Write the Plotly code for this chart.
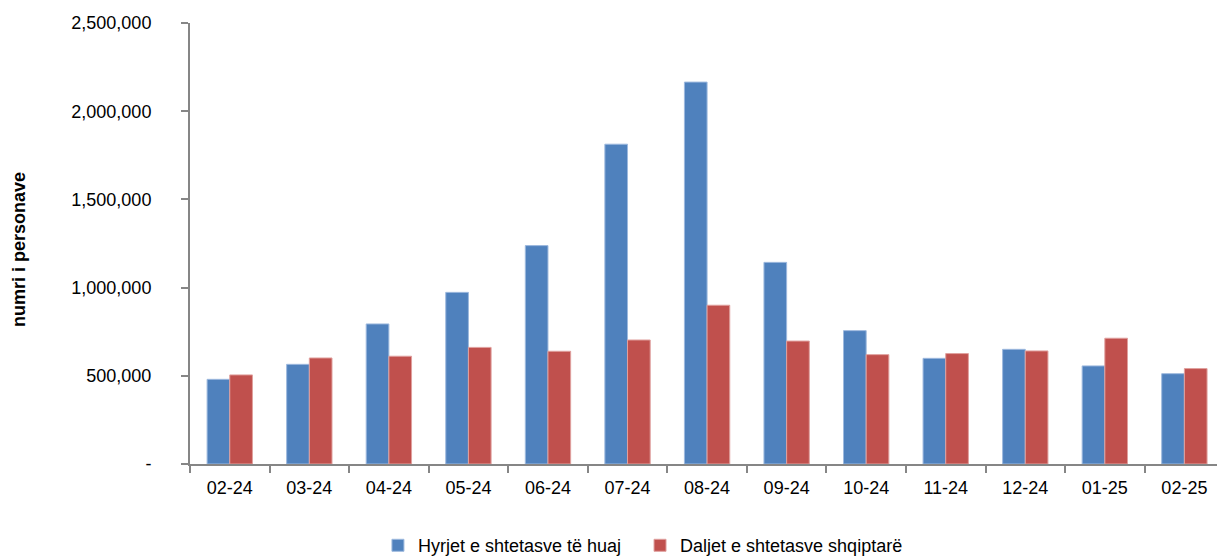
import plotly.graph_objects as go

categories = ["02-24", "03-24", "04-24", "05-24", "06-24", "07-24", "08-24",
              "09-24", "10-24", "11-24", "12-24", "01-25", "02-25"]
hyrjet = [480000, 565000, 794000, 973000, 1238000, 1813000, 2165000,
          1143000, 756000, 599000, 650000, 556000, 512000]
daljet = [505000, 601000, 611000, 661000, 639000, 703000, 900000,
          697000, 620000, 626000, 641000, 713000, 541000]
series_names = ["Hyrjet e shtetasve të huaj", "Daljet e shtetasve shqiptarë"]
y_tickvals = [0, 500000, 1000000, 1500000, 2000000, 2500000]
y_ticktext = ["-", "500,000", "1,000,000", "1,500,000", "2,000,000", "2,500,000"]

FONT = "Liberation Sans, Arial, sans-serif"

fig = go.Figure()
fig.add_trace(go.Bar(x=categories, y=hyrjet, name=series_names[0], legend="legend",
                     marker=dict(color="#4F81BD", line=dict(color="#9DB9DE", width=1))))
fig.add_trace(go.Bar(x=categories, y=daljet, name=series_names[1], legend="legend2",
                     marker=dict(color="#C0504D", line=dict(color="#E0A09E", width=1))))

legend_common = dict(orientation="h", xanchor="left", y=-0.185, yanchor="middle",
                     font=dict(size=18), itemwidth=30, bgcolor="rgba(0,0,0,0)")

fig.update_layout(
    width=1217, height=556,
    margin=dict(l=190, r=0, t=23, b=92, autoexpand=False),
    paper_bgcolor="white", plot_bgcolor="white",
    font=dict(family=FONT, size=18, color="black"),
    barmode="group", bargap=0.43, bargroupgap=0,
    showlegend=True,
    legend=dict(x=0.183, **legend_common),
    legend2=dict(x=0.4382, **legend_common),
    xaxis=dict(type="category", range=[-0.5, 12.41], showline=True,
               linecolor="#868686", linewidth=2, ticks="outside", ticklen=7,
               tickwidth=2, tickcolor="#868686", tickson="boundaries",
               showgrid=False, tickfont=dict(size=18), ticklabelstandoff=6),
    yaxis=dict(range=[0, 2500000], tickvals=y_tickvals, ticktext=y_ticktext,
               showline=True, linecolor="#868686", linewidth=2, ticks="outside",
               ticklen=7, tickwidth=2, tickcolor="#868686", showgrid=False,
               zeroline=False, ticklabelstandoff=26, tickfont=dict(size=18)),
    annotations=[dict(text="<b>numri i personave</b>", textangle=-90,
                      xref="paper", yref="paper", x=(19 - 190) / 1027, y=0.485,
                      xanchor="center", yanchor="middle",
                      showarrow=False, font=dict(size=18, family=FONT))],
)

fig.write_html("out.html", config={"displayModeBar": False},
               post_script="document.body.style.margin='0';")
